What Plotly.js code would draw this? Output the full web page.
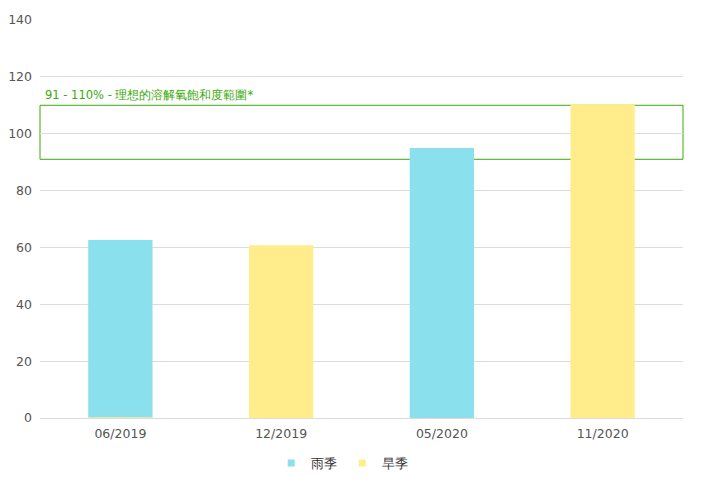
<!DOCTYPE html>
<html>
<head>
<meta charset="utf-8">
<script src="https://cdn.plot.ly/plotly-3.0.1.min.js"></script>
<style>
  html, body { margin: 0; padding: 0; background: #fff; }
  #chart { width: 702px; height: 498px; }
</style>
</head>
<body>
<div id="chart"></div>
<script>
// sampling dates (x categories)
const categories = ['06/2019', '12/2019', '05/2020', '11/2020'];

// dissolved oxygen saturation (%) by season
const rainyValues = [62.6, null, 95.0, null];
const dryValues = [0.3, 60.8, null, 110.4];

// ideal range band
const idealLow = 91;
const idealHigh = 110;
const idealLabel = '91 - 110% - 理想的溶解氧飽和度範圍*';

const seriesNames = ['雨季', '旱季'];
const rainyColor = '#8ae0ec';
const dryColor = '#feed8a';
const bandColor = '#3aaa0a';

const fontFamily = '"DejaVu Sans", Verdana, sans-serif';

const data = [
  {
    type: 'bar', x: categories, y: rainyValues, name: seriesNames[0],
    marker: { color: rainyColor }, width: 0.4, showlegend: false, hoverinfo: 'x+y'
  },
  {
    type: 'bar', x: categories, y: dryValues, name: seriesNames[1],
    marker: { color: dryColor }, width: 0.4, showlegend: false, hoverinfo: 'x+y'
  },
  // small square legend markers
  {
    type: 'scatter', mode: 'markers', x: [null], y: [null], name: seriesNames[0],
    marker: { symbol: 'square', size: 7, color: rainyColor }
  },
  {
    type: 'scatter', mode: 'markers', x: [null], y: [null], name: seriesNames[1],
    marker: { symbol: 'square', size: 7, color: dryColor }
  }
];

const layout = {
  width: 702,
  height: 498,
  margin: { l: 40, r: 19, t: 20, b: 80 },
  paper_bgcolor: '#fff',
  plot_bgcolor: '#fff',
  font: { family: fontFamily, size: 12, color: '#555' },
  barmode: 'overlay',
  xaxis: {
    type: 'category',
    categoryorder: 'array',
    categoryarray: categories,
    showgrid: false,
    showline: false,
    zeroline: false,
    ticks: '',
    ticklabelstandoff: 6,
    tickfont: { size: 12.5, color: '#555' }
  },
  yaxis: {
    range: [0, 140],
    dtick: 20,
    showgrid: true,
    gridcolor: '#dcdcdc',
    zeroline: true,
    zerolinecolor: '#dcdcdc',
    showline: false,
    ticks: '',
    ticklabelstandoff: 7,
    tickfont: { size: 12.5, color: '#555' }
  },
  legend: {
    orientation: 'h',
    x: 0.47, xanchor: 'center',
    y: -0.113, yanchor: 'middle',
    font: { size: 13, color: '#333' },
    itemwidth: 30
  },
  shapes: [
    {
      type: 'rect', xref: 'paper', yref: 'y',
      x0: 0, x1: 1, y0: idealLow, y1: idealHigh,
      line: { color: bandColor, width: 1 },
      fillcolor: 'rgba(0,0,0,0)',
      layer: 'below'
    }
  ],
  annotations: [
    {
      xref: 'paper', yref: 'y',
      x: 0.005, y: idealHigh,
      xanchor: 'left', yanchor: 'bottom',
      yshift: 1,
      text: idealLabel,
      showarrow: false,
      font: { size: 11.5, color: bandColor }
    }
  ]
};

Plotly.newPlot('chart', data, layout, { displayModeBar: false, staticPlot: true });
</script>
</body>
</html>
